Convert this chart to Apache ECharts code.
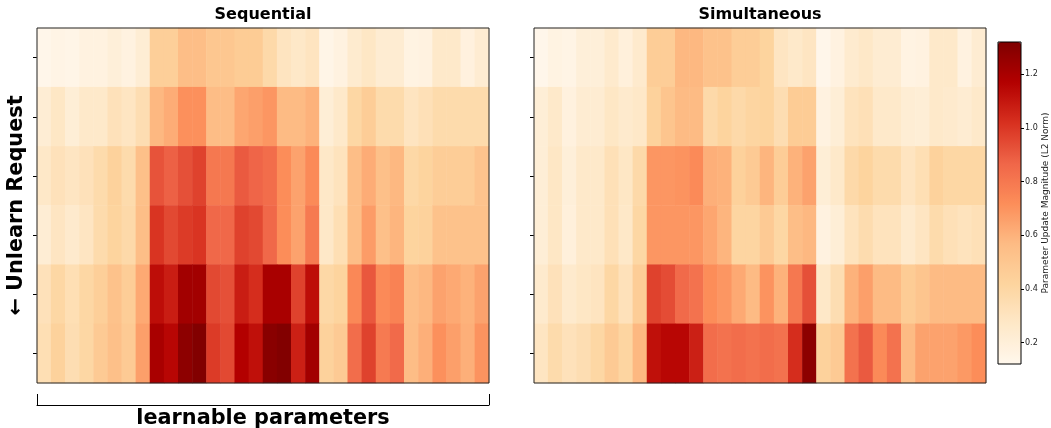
<!DOCTYPE html>
<html>
<head>
<meta charset="utf-8">
<script src="https://cdn.jsdelivr.net/npm/echarts@6/dist/echarts.min.js"></script>
<style>
  html, body { margin: 0; padding: 0; background: #fff; }
  #main { width: 1051px; height: 428px; }
</style>
</head>
<body>
<div id="main"></div>
<script>
// rows = unlearn requests (top -> bottom), columns = learnable parameters
var requests = ['1', '2', '3', '4', '5', '6'];
var params = [];
for (var p = 1; p <= 32; p++) params.push(String(p));

var sequential = [
  [0.13,0.15,0.14,0.17,0.17,0.20,0.17,0.22, 0.45,0.45,0.55,0.55,0.50,0.50,0.47,0.47, 0.38,0.30,0.27,0.30, 0.14,0.17,0.24,0.28,0.23,0.23,0.16,0.17,0.26,0.26,0.18,0.23],
  [0.22,0.28,0.21,0.26,0.26,0.32,0.29,0.35, 0.58,0.62,0.71,0.71,0.56,0.56,0.64,0.66, 0.69,0.57,0.57,0.60, 0.21,0.26,0.40,0.46,0.37,0.37,0.30,0.33,0.37,0.37,0.37,0.37],
  [0.27,0.32,0.29,0.32,0.37,0.43,0.37,0.54, 0.92,0.88,0.93,0.97,0.80,0.80,0.90,0.87, 0.84,0.72,0.65,0.73, 0.27,0.31,0.55,0.62,0.54,0.58,0.39,0.42,0.46,0.46,0.46,0.52],
  [0.22,0.29,0.25,0.29,0.37,0.42,0.38,0.55, 1.01,0.95,0.99,1.01,0.86,0.86,0.97,0.95, 0.86,0.72,0.65,0.79, 0.27,0.34,0.55,0.67,0.54,0.59,0.42,0.43,0.53,0.53,0.53,0.53],
  [0.32,0.40,0.34,0.40,0.45,0.53,0.46,0.63, 1.13,1.08,1.22,1.22,0.95,0.93,1.08,1.03, 1.20,1.20,0.97,1.13, 0.39,0.42,0.74,0.91,0.73,0.76,0.55,0.58,0.65,0.63,0.60,0.65],
  [0.34,0.43,0.35,0.40,0.48,0.54,0.48,0.66, 1.20,1.15,1.28,1.31,0.99,0.95,1.17,1.12, 1.29,1.31,1.07,1.22, 0.43,0.48,0.84,0.97,0.79,0.85,0.56,0.61,0.71,0.66,0.61,0.70]
];

var simultaneous = [
  [0.13,0.16,0.15,0.20,0.20,0.25,0.19,0.25, 0.46,0.46,0.58,0.58,0.53,0.53,0.46,0.46, 0.42,0.29,0.26,0.29, 0.13,0.17,0.24,0.27,0.23,0.23,0.16,0.17,0.26,0.26,0.17,0.23],
  [0.21,0.26,0.18,0.23,0.23,0.28,0.25,0.27, 0.43,0.51,0.57,0.57,0.38,0.42,0.38,0.41, 0.42,0.35,0.47,0.47, 0.17,0.21,0.31,0.33,0.26,0.26,0.22,0.21,0.26,0.25,0.23,0.26],
  [0.21,0.28,0.20,0.26,0.26,0.33,0.28,0.38, 0.69,0.69,0.70,0.73,0.61,0.60,0.44,0.48, 0.59,0.46,0.60,0.65, 0.21,0.26,0.38,0.42,0.37,0.37,0.30,0.34,0.43,0.40,0.40,0.40],
  [0.21,0.28,0.19,0.26,0.26,0.33,0.27,0.40, 0.69,0.69,0.69,0.69,0.64,0.59,0.41,0.41, 0.48,0.40,0.55,0.58, 0.17,0.21,0.31,0.36,0.31,0.31,0.25,0.29,0.37,0.33,0.31,0.33],
  [0.25,0.32,0.25,0.28,0.30,0.40,0.32,0.46, 0.97,0.94,0.85,0.82,0.72,0.69,0.63,0.57, 0.70,0.60,0.80,0.93, 0.27,0.35,0.60,0.66,0.57,0.57,0.47,0.51,0.57,0.57,0.57,0.57],
  [0.29,0.37,0.32,0.35,0.40,0.48,0.41,0.58, 1.12,1.15,1.15,1.07,0.84,0.82,0.84,0.82, 0.84,0.82,1.03,1.28, 0.43,0.48,0.82,0.90,0.73,0.82,0.57,0.65,0.65,0.65,0.68,0.72]
];

var cbTicks = [0.2, 0.4, 0.6, 0.8, 1.0, 1.2];
var cbMin = 0.12, cbMax = 1.32;

// matplotlib OrRd
var orRd = ['#fff7ec','#fee8c8','#fdd49e','#fdbb84','#fc8d59','#ef6548','#d7301f','#b30000','#7f0000'];

var font = 'DejaVu Sans';
var bigLabel = { fontFamily: font, fontSize: 20.8, fontWeight: 'bold', color: '#000' };
var titleStyle = { fontFamily: font, fontSize: 16, fontWeight: 'bold', color: '#000' };

function toCells(rows) {
  var out = [];
  rows.forEach(function (r, i) {
    r.forEach(function (v, j) { out.push([j, i, v]); });
  });
  return out;
}

function catY(gi, withName) {
  var ax = {
    gridIndex: gi, type: 'category', data: requests, inverse: true,
    axisLine: { show: false },
    axisTick: { show: true, alignWithLabel: true, length: 4, lineStyle: { color: '#000' } },
    axisLabel: { show: false },
    splitLine: { show: false }
  };
  if (withName) {
    ax.name = '\u2190 Unlearn Request';
    ax.nameLocation = 'middle';
    ax.nameGap = 10;
    ax.nameTextStyle = bigLabel;
  }
  return ax;
}

var gridBase = { show: true, z: 10, borderColor: '#222', borderWidth: 1,
  backgroundColor: 'transparent', outerBoundsMode: 'none', containLabel: false };

var option = {
  animation: false,
  backgroundColor: '#fff',
  title: [
    { text: 'Sequential', left: 263, top: 7, padding: 0, textAlign: 'center', textStyle: titleStyle },
    { text: 'Simultaneous', left: 760, top: 7, padding: 0, textAlign: 'center', textStyle: titleStyle }
  ],
  grid: [
    Object.assign({ left: 37, top: 28, width: 452, height: 355 }, gridBase),
    Object.assign({ left: 534, top: 28, width: 452, height: 355 }, gridBase),
    Object.assign({ left: 998, top: 42, width: 23, height: 322 }, gridBase, { borderColor: '#000' })
  ],
  xAxis: [
    { gridIndex: 0, type: 'category', data: params, show: false },
    { gridIndex: 1, type: 'category', data: params, show: false },
    { gridIndex: 2, type: 'category', data: [''], show: false },
    // bracket under the left panel
    { gridIndex: 0, type: 'value', min: 0, max: 1, position: 'bottom', offset: 22,
      axisLine: { show: true, lineStyle: { color: '#000', width: 1 } },
      axisTick: { show: true, inside: true, length: 11, customValues: [0, 1], lineStyle: { color: '#000' } },
      axisLabel: { show: false }, splitLine: { show: false },
      name: 'learnable parameters', nameLocation: 'middle', nameGap: 3,
      nameTextStyle: bigLabel }
  ],
  yAxis: [
    catY(0, true),
    catY(1, false),
    { gridIndex: 2, type: 'value', min: cbMin, max: cbMax, position: 'right',
      axisLine: { show: false },
      axisTick: { show: true, length: 3, customValues: cbTicks, lineStyle: { color: '#000' } },
      axisLabel: { show: true, customValues: cbTicks, margin: 4, fontFamily: font, fontSize: 8, color: '#222',
        formatter: function (v) { return v.toFixed(1); } },
      splitLine: { show: false },
      name: 'Parameter Update Magnitude (L2 Norm)', nameLocation: 'middle', nameRotate: 90, nameGap: 19,
      nameTruncate: { maxWidth: 400 },
      nameTextStyle: { fontFamily: font, fontSize: 9, color: '#222', width: 400, overflow: 'none' } }
  ],
  visualMap: {
    type: 'continuous', min: cbMin, max: cbMax, seriesIndex: [0, 1],
    orient: 'vertical', left: 998, top: 42, itemWidth: 23, itemHeight: 322,
    padding: 0, calculable: false, hoverLink: false, indicatorSize: 0, text: null,
    inRange: { color: orRd }
  },
  series: [
    { name: 'Sequential', type: 'heatmap', xAxisIndex: 0, yAxisIndex: 0,
      data: toCells(sequential), emphasis: { disabled: true } },
    { name: 'Simultaneous', type: 'heatmap', xAxisIndex: 1, yAxisIndex: 1,
      data: toCells(simultaneous), emphasis: { disabled: true } }
  ]
};

var myChart = echarts.init(document.getElementById('main'));
myChart.setOption(option);
</script>
</body>
</html>
